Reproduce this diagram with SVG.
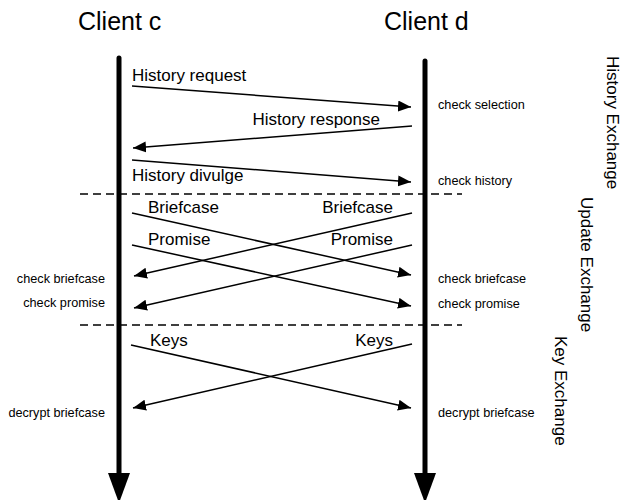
<svg xmlns="http://www.w3.org/2000/svg" width="623" height="500" viewBox="0 0 623 500">
<style>
text{font-family:"Liberation Sans",Arial,Helvetica,sans-serif;fill:#000}
.title{font-size:25px}
.lbl{font-size:17px}
.sm{font-size:12.7px}
.msg{stroke:#000;stroke-width:1.5;fill:none;marker-end:url(#ah)}
.life{stroke:#000;stroke-width:5;stroke-linecap:round;fill:none}
.dash{stroke:#000;stroke-width:1.5;stroke-dasharray:8,5;fill:none}
</style>
<defs>
<marker id="ah" markerUnits="userSpaceOnUse" markerWidth="14" markerHeight="12" refX="13" refY="5.5" orient="auto">
<path d="M0,0 L13,5.5 L0,11 Z" fill="#000"/>
</marker>
</defs>
<g id="client-c">
<text class="title" x="78" y="30">Client c</text>
<line class="life" x1="119" y1="58" x2="119" y2="476"/>
<polygon points="108,473 130,473 119,503" fill="#000"/>
</g>
<g id="client-d">
<text class="title" x="384" y="30">Client d</text>
<line class="life" x1="425" y1="61" x2="425" y2="476"/>
<polygon points="414,473 436,473 425,503" fill="#000"/>
</g>
<g id="separators">
<line class="dash" x1="80" y1="194" x2="462" y2="194"/>
<line class="dash" x1="80" y1="325" x2="462" y2="325"/>
</g>
<g id="phase-labels">
<text class="lbl" transform="translate(607,56) rotate(90)">History Exchange</text>
<text class="lbl" transform="translate(581,197) rotate(90)">Update Exchange</text>
<text class="lbl" transform="translate(555,336) rotate(90)">Key Exchange</text>
</g>
<g id="connectors">
<line class="msg" x1="132" y1="86" x2="411" y2="107"/>
<line class="msg" x1="412" y1="126" x2="133" y2="148"/>
<line class="msg" x1="132" y1="160" x2="411" y2="182"/>
<line class="msg" x1="132" y1="213" x2="411" y2="275"/>
<line class="msg" x1="412" y1="213" x2="134" y2="276"/>
<line class="msg" x1="132" y1="245" x2="411" y2="306"/>
<line class="msg" x1="412" y1="245" x2="134" y2="308"/>
<line class="msg" x1="131" y1="345" x2="411" y2="408"/>
<line class="msg" x1="412" y1="344" x2="133" y2="408"/>
</g>
<g id="message-labels">
<text class="lbl" x="132" y="81">History request</text>
<text class="lbl" x="380" y="125" text-anchor="end">History response</text>
<text class="lbl" x="132" y="181">History divulge</text>
<text class="lbl" x="148" y="213">Briefcase</text>
<text class="lbl" x="393" y="213" text-anchor="end">Briefcase</text>
<text class="lbl" x="148" y="245">Promise</text>
<text class="lbl" x="393" y="245" text-anchor="end">Promise</text>
<text class="lbl" x="150" y="346">Keys</text>
<text class="lbl" x="393" y="346" text-anchor="end">Keys</text>
</g>
<g id="actions">
<text class="sm" x="438" y="109">check selection</text>
<text class="sm" x="438" y="185">check history</text>
<text class="sm" x="438" y="283">check briefcase</text>
<text class="sm" x="438" y="308">check promise</text>
<text class="sm" x="438" y="417">decrypt briefcase</text>
<text class="sm" x="105" y="283" text-anchor="end">check briefcase</text>
<text class="sm" x="105" y="307" text-anchor="end">check promise</text>
<text class="sm" x="105" y="417" text-anchor="end">decrypt briefcase</text>
</g>
</svg>
